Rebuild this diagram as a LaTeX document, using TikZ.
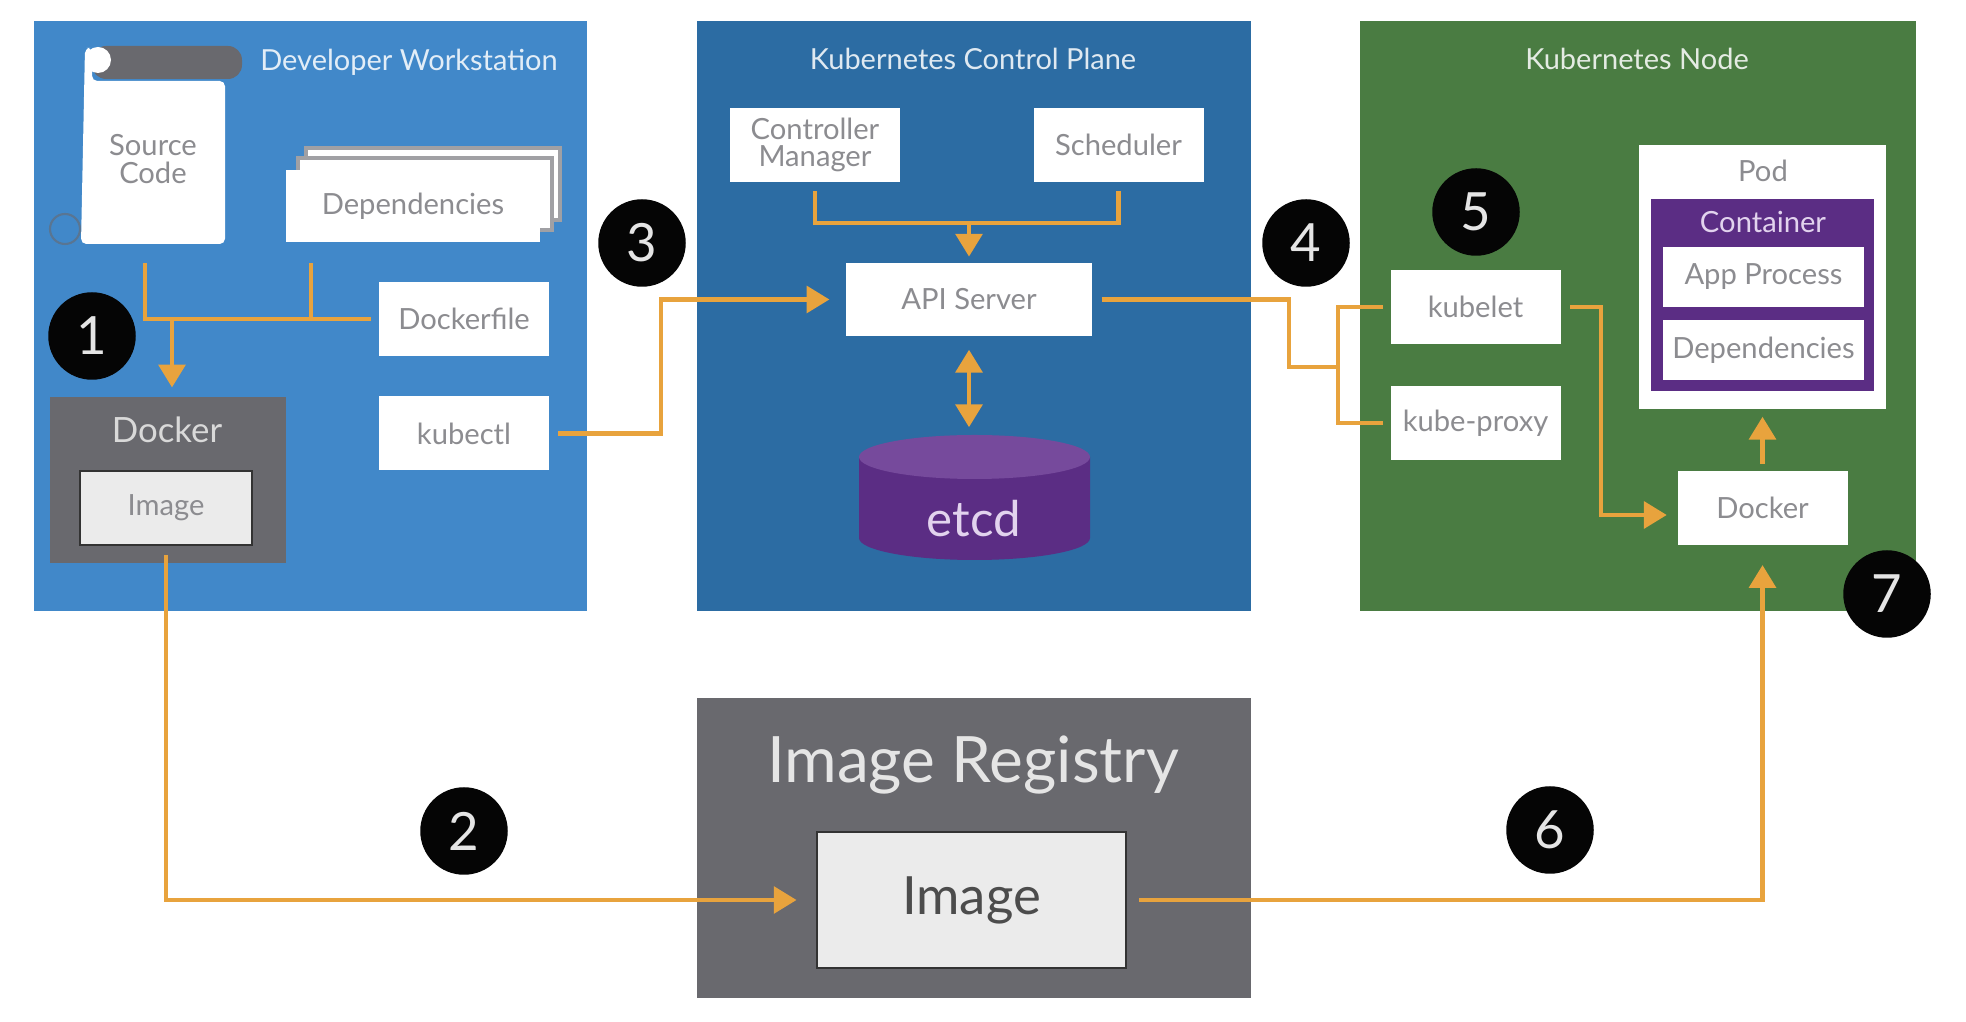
\documentclass[tikz,border=0pt]{standalone}
\usepackage{fontspec}
\setmainfont{Lato}
\usepackage{tikz}
\usetikzlibrary{arrows.meta, calc}
\definecolor{DevBlue}{HTML}{4188C9}
\definecolor{PlaneBlue}{HTML}{2C6CA3}
\definecolor{NodeGreen}{HTML}{4A7C42}
\definecolor{SlateGray}{HTML}{69696E}
\definecolor{LabelGray}{HTML}{8C8C90}
\definecolor{SheetGray}{HTML}{A0A0A4}
\definecolor{FlowOrange}{HTML}{E8A33D}
\definecolor{DeepPurple}{HTML}{5B2D84}
\definecolor{TopPurple}{HTML}{764A9C}
\definecolor{SoftLilac}{HTML}{E2D3EE}
\definecolor{ImageWhite}{HTML}{EBEBEB}
\definecolor{DotBlack}{HTML}{050505}
\tikzset{
    % Panels behind everything
    panel/.style={
        rectangle,
        draw=none,
        inner sep=0pt,
        minimum height=5.9cm
    },
    paneltitle/.style={
        inner sep=0pt,
        font=\fontsize{8.25}{10}\selectfont
    },
    % White boxes
    whitebox/.style={
        rectangle,
        draw=none,
        fill=white,
        text=LabelGray,
        inner sep=0pt,
        align=center,
        minimum width=1.7cm,
        minimum height=0.74cm,
        font=\fontsize{8.3}{7.8}\selectfont
    },
    sheetbox/.style={
        whitebox,
        draw=SheetGray,
        line width=1.1pt,
        minimum width=2.54cm,
        minimum height=0.72cm
    },
    imagebox/.style={
        whitebox,
        draw=black!80,
        line width=0.6pt,
        fill=ImageWhite
    },
    % Connectors
    flowline/.style={
        draw=FlowOrange,
        line width=1.4pt
    },
    flowarrow/.style={
        flowline,
        -{Triangle[length=6.5pt,width=7.5pt]}
    },
    % Numbered steps
    stepdot/.style={
        circle,
        fill=DotBlack,
        text=white!90!black,
        inner sep=0pt,
        minimum size=0.875cm,
        font=\fontsize{15}{18}\selectfont
    }
}
\begin{document}
\begin{tikzpicture}
    \useasboundingbox (0,0) rectangle (19.66,10.22);
    \fill[white] (0,0) rectangle (19.66,10.22);

    % Panels
    \node[panel,fill=DevBlue,minimum width=5.53cm] (devpanel) at (3.105,7.06) {};
    \node[panel,fill=PlaneBlue,minimum width=5.54cm] (ctrlpanel) at (9.74,7.06) {};
    \node[panel,fill=NodeGreen,minimum width=5.56cm] (nodepanel) at (16.38,7.06) {};
    \node[panel,fill=SlateGray,minimum width=5.54cm,minimum height=3cm] (regpanel) at (9.74,1.74) {};
    \node[paneltitle,text=white!85!DevBlue] (devtitle) at (4.09,9.6) {Developer Workstation};
    \node[paneltitle,text=white!85!PlaneBlue] (ctrltitle) at (9.73,9.63) {Kubernetes Control Plane};
    \node[paneltitle,text=white!85!NodeGreen] (nodetitle) at (16.37,9.63) {Kubernetes Node};
    \node[inner sep=0pt,text=white!90!black,font=\fontsize{18.2}{22}\selectfont] (regtitle) at (9.73,2.57) {Image Registry};

    % Source code scroll
    \draw[SlateGray!60!DevBlue,line width=0.6pt] (0.65,7.93) circle (0.15);
    \fill[SlateGray,rounded corners=4pt] (0.92,9.76) rectangle (2.42,9.43);
    \fill[white,rounded corners=1.5pt] (0.85,9.74) -- (0.81,7.78) -- (2.25,7.78) -- (2.25,9.41) -- (0.92,9.41) -- (0.92,9.74) -- cycle;
    \fill[white] (0.98,9.62) circle (0.13);
    \node[inner sep=0pt,text=LabelGray,align=center,font=\fontsize{8.3}{7.8}\selectfont] (source) at (1.53,8.63) {Source\\Code};

    % Developer workstation boxes
    \node[sheetbox] (sheetback) at (4.33,8.38) {};
    \node[sheetbox] (sheetmid) at (4.25,8.28) {};
    \node[whitebox,minimum width=2.54cm,minimum height=0.72cm] (deps) at (4.13,8.16) {Dependencies};
    \node[whitebox] (dockerfile) at (4.64,7.03) {Dockerfile};
    \node[whitebox] (kubectl) at (4.64,5.885) {kubectl};
    \node[panel,fill=SlateGray,minimum width=2.36cm,minimum height=1.66cm] (dockerbox) at (1.68,5.42) {};
    \node[inner sep=0pt,text=white!85!black,font=\fontsize{9.9}{12}\selectfont] (dockertitle) at (1.67,5.92) {Docker};
    \node[imagebox,minimum width=1.72cm] (dockimg) at (1.66,5.14) {Image};

    % Control plane boxes
    \node[whitebox] (ctrlmgr) at (8.15,8.77) {Controller\\Manager};
    \node[whitebox] (sched) at (11.185,8.77) {Scheduler};
    \node[whitebox,minimum width=2.46cm,minimum height=0.73cm] (apisrv) at (9.69,7.225) {API Server};
    \node[panel,minimum width=2.31cm,minimum height=1.25cm] (etcd) at (9.745,5.245) {};
    \fill[DeepPurple] (8.59,5.65) -- (8.59,4.84) arc[start angle=180,end angle=360,x radius=1.155,y radius=0.22] -- (10.9,5.65) -- cycle;
    \fill[TopPurple] (9.745,5.65) ellipse[x radius=1.155,y radius=0.22];
    \node[inner sep=0pt,text=SoftLilac,font=\fontsize{14}{16}\selectfont] (etcdlabel) at (9.74,5.03) {etcd};

    % Node boxes
    \node[whitebox] (kubelet) at (14.755,7.15) {kubelet};
    \node[whitebox] (kubeproxy) at (14.755,5.99) {kube-proxy};
    \node[whitebox,minimum width=2.47cm,minimum height=2.64cm] (pod) at (17.625,7.45) {};
    \node[inner sep=0pt,text=LabelGray,font=\fontsize{8.3}{10}\selectfont] (podtitle) at (17.63,8.51) {Pod};
    \node[panel,fill=DeepPurple,minimum width=2.23cm,minimum height=1.92cm] (container) at (17.625,7.27) {};
    \node[inner sep=0pt,text=SoftLilac,font=\fontsize{8.3}{10}\selectfont] (containertitle) at (17.63,8.0) {Container};
    \node[whitebox,minimum width=2.01cm,minimum height=0.6cm] (appproc) at (17.635,7.45) {App Process};
    \node[whitebox,minimum width=2.01cm,minimum height=0.6cm] (poddeps) at (17.635,6.72) {Dependencies};
    \node[whitebox] (nodedocker) at (17.625,5.14) {Docker};

    % Registry image
    \node[imagebox,minimum width=3.09cm,minimum height=1.36cm,text=black!70,font=\fontsize{15}{17}\selectfont] (regimg) at (9.715,1.22) {Image};

    % Junctions
    \coordinate (srcout) at (1.45,7.59);
    \coordinate (depout) at (3.11,7.59);
    \coordinate (mergeleft) at (1.45,7.03);
    \coordinate (mergedep) at (3.11,7.03);
    \coordinate (mergedrop) at (1.72,7.03);
    \coordinate (ctrlmerge) at (9.69,7.99);
    \coordinate (kubejog) at (6.61,7.225);
    \coordinate (apijog) at (12.89,7.225);
    \coordinate (nodebus) at (13.38,6.55);
    \coordinate (kubeletdrop) at (16.01,5.07);

    % Build connectors
    \draw[flowline,shorten <=2pt] (dockerfile.west) -- (mergeleft) -- (srcout);
    \draw[flowline] (mergedep) -- (depout);
    \draw[flowarrow,shorten >=2.5pt] (mergedrop) -- (mergedrop |- dockerbox.north);
    \draw[flowarrow,shorten <=2.5pt,shorten >=5.5pt] (dockimg.south) |- (regimg.west);
    \draw[flowarrow,shorten <=3.5pt,shorten >=5.5pt] (regimg.east) -| (nodedocker.south);
    \draw[flowarrow,shorten <=2.5pt,shorten >=4.5pt] (kubectl.east) -| (kubejog) -- (apisrv.west);

    % Control plane connectors
    \draw[flowline,shorten <=2.3pt,shorten >=2.3pt] (ctrlmgr.south) |- (ctrlmerge) -| (sched.south);
    \draw[flowarrow,shorten >=1.6pt] (ctrlmerge) -- (apisrv.north);
    \draw[flowline,{Triangle[length=6.5pt,width=7.5pt]}-{Triangle[length=6.5pt,width=7.5pt]},shorten <=3.7pt,shorten >=2pt] (apisrv.south) -- (apisrv.south |- etcd.north);
    \draw[flowline,shorten <=2.5pt] (apisrv.east) -- (apijog) |- (nodebus);

    % Node connectors
    \draw[flowline,shorten <=2pt,shorten >=2pt] (kubelet.west) -| (nodebus) |- (kubeproxy.west);
    \draw[flowarrow,shorten <=2.5pt] (kubelet.east) -| (kubeletdrop) -- ($(kubeletdrop -| nodedocker.west)+(-0.1,0)$);
    \draw[flowarrow,shorten <=1.8pt,shorten >=2pt] (nodedocker.north) -- (pod.south);

    % Steps
    \node[stepdot] (stepone) at (0.92,6.86) {1};
    \node[stepdot] (steptwo) at (4.64,1.91) {2};
    \node[stepdot] (stepthree) at (6.42,7.79) {3};
    \node[stepdot] (stepfour) at (13.06,7.79) {4};
    \node[stepdot] (stepfive) at (14.76,8.1) {5};
    \node[stepdot] (stepsix) at (15.5,1.92) {6};
    \node[stepdot] (stepseven) at (18.87,4.28) {7};
\end{tikzpicture}
\end{document}
